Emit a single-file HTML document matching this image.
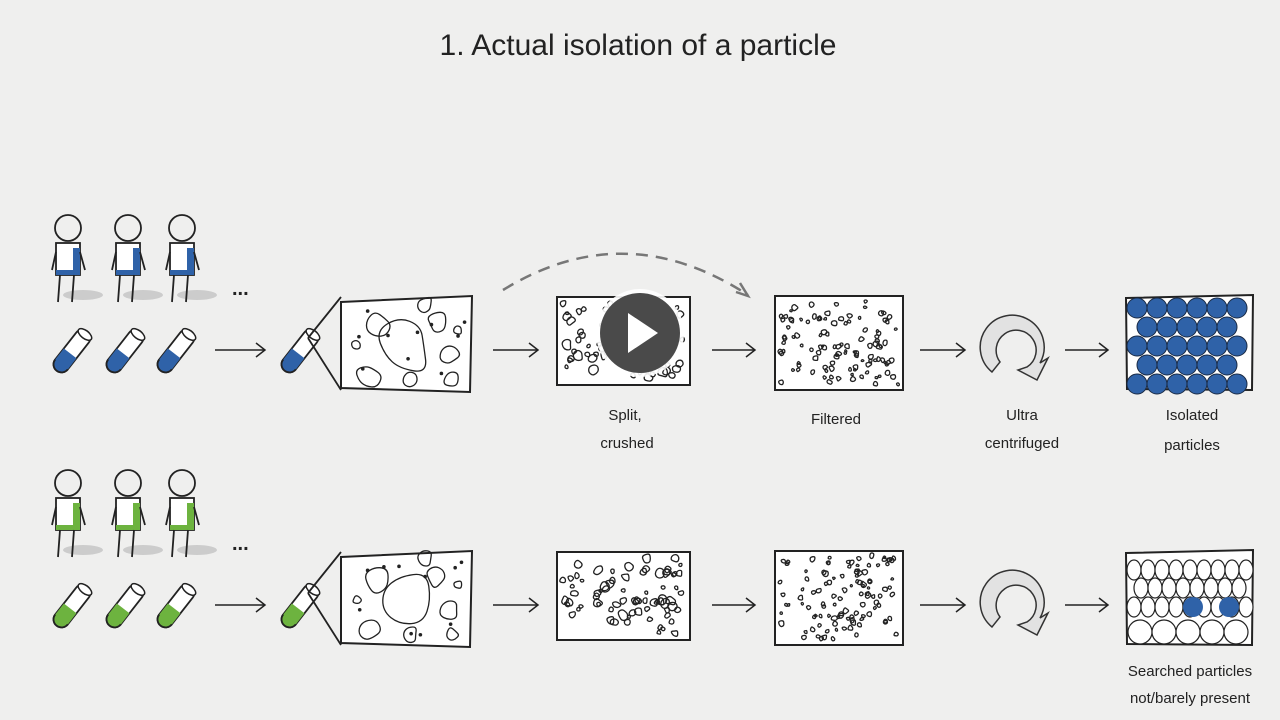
<!DOCTYPE html>
<html><head><meta charset="utf-8">
<style>
html,body{margin:0;padding:0;background:#efefee;}
svg{display:block}
text{font-family:"Liberation Sans",sans-serif;fill:#222}
</style></head><body>
<svg id="s" width="1280" height="720" viewBox="0 0 1280 720" xmlns="http://www.w3.org/2000/svg">
<rect width="1280" height="720" fill="#efefee"/>
<text x="638" y="55" font-size="30" text-anchor="middle">1. Actual isolation of a particle</text>

<g id="top"></g>
<g id="bot" transform="translate(0,255)"></g>

<path d="M503,290 Q625,215 748,295" fill="none" stroke="#777" stroke-width="2.5" stroke-dasharray="12,8"/>
<path d="M740,283 L748,296 L736,292" fill="none" stroke="#777" stroke-width="2.5"/>

<g font-size="15" text-anchor="middle">
<text x="625" y="420">Split,</text><text x="627" y="448">crushed</text>
<text x="836" y="424">Filtered</text>
<text x="1022" y="420">Ultra</text><text x="1022" y="448">centrifuged</text>
<text x="1192" y="420">Isolated</text><text x="1192" y="450">particles</text>
<text x="1190" y="676">Searched particles</text><text x="1190" y="703">not/barely present</text>
</g>

<circle cx="640" cy="333" r="44" fill="#fff" opacity="0.9"/>
<circle cx="640" cy="333" r="40" fill="#4a4a4a"/>
<path d="M628,313 L658,333 L628,353 Z" fill="#fff"/>
</svg>
<script>
var NS="http://www.w3.org/2000/svg";
function el(p,t,a){var e=document.createElementNS(NS,t);for(var k in a)e.setAttribute(k,a[k]);p.appendChild(e);return e;}
var seed=7;function r(){seed=(seed*16807)%2147483647;return seed/2147483647;}
function blob(g,cx,cy,rad,sw){var n=7,pts=[];for(var i=0;i<n;i++){var a=i/n*6.283,rr=rad*(0.55+0.55*r());pts.push([cx+Math.cos(a)*rr,cy+Math.sin(a)*rr]);}
 var d="";for(var i=0;i<n;i++){var p=pts[i],q=pts[(i+1)%n],m=[(p[0]+q[0])/2,(p[1]+q[1])/2];if(i==0){var l=pts[n-1];d="M"+((l[0]+p[0])/2).toFixed(1)+","+((l[1]+p[1])/2).toFixed(1);}d+="Q"+p[0].toFixed(1)+","+p[1].toFixed(1)+" "+m[0].toFixed(1)+","+m[1].toFixed(1);}
 el(g,"path",{d:d+"Z",fill:"none",stroke:"#222","stroke-width":sw||1.3});}
function build(g,color,bottom){
 var s={stroke:"#222","stroke-width":1.8,fill:"none"};
 var px=[68,128,182];
 px.forEach(function(x,i){
  el(g,"ellipse",{cx:x+15,cy:295,rx:20,ry:5,fill:"#ccc"});
  el(g,"circle",Object.assign({cx:x,cy:228,r:13,fill:"#fff"},s));
  el(g,"rect",{x:x-12,y:243,width:24,height:32,fill:"#fff",stroke:"#222","stroke-width":1.8});
  el(g,"rect",{x:x+5,y:248,width:7,height:27,fill:color});
  el(g,"rect",{x:x-12,y:270,width:24,height:5,fill:color});
  el(g,"path",Object.assign({d:"M"+(x-8)+",275 L"+(x-10)+",302 M"+(x+6)+",275 L"+(x+4)+",302 M"+(x-12)+",252 L"+(x-16)+",270 M"+(x+12)+",252 L"+(x+17)+",270"},s));
 });
 var dots=el(g,"text",{x:232,y:295,"font-size":20,"font-weight":"bold"});dots.textContent="...";
 [72,125,176,300].forEach(function(x){
  var t=el(g,"g",{transform:"translate("+x+",351) rotate(-52)"});
  el(t,"rect",{x:-25,y:-8,width:50,height:16,rx:8,fill:"#fff",stroke:"#222","stroke-width":1.8});
  el(t,"path",{d:"M-17,-8 L-3,-8 L-3,8 L-17,8 A8,8 0 0 1 -17,-8Z",fill:color});
  el(t,"path",{d:"M-17,-8 A8,8 0 0 0 -17,8",fill:"none",stroke:"#222","stroke-width":1.8});
  el(t,"ellipse",{cx:21,cy:0,rx:4,ry:8,fill:"#fff",stroke:"#222","stroke-width":1.5});
 });
 el(g,"path",Object.assign({d:"M308,338 L341,297 M308,338 L341,390"},s));
 [[215,265],[493,538],[712,755],[920,965],[1065,1108]].forEach(function(a){
  el(g,"path",Object.assign({d:"M"+a[0]+",350 L"+a[1]+",350 M"+(a[1]-9)+",343 L"+a[1]+",350 L"+(a[1]-9)+",357"},s,{"stroke-width":1.5}));
 });
 el(g,"path",{d:"M341,302 L472,296 L470,392 L341,388 Z",fill:"#fff",stroke:"#222","stroke-width":2});
 var b1=el(g,"g",{});
 blob(b1,405,345,34);blob(b1,378,325,14);blob(b1,437,322,12);blob(b1,450,355,11);blob(b1,368,376,14);blob(b1,452,380,9);blob(b1,425,305,10);blob(b1,357,345,6);blob(b1,410,380,10);blob(b1,458,330,5);
 for(var i=0;i<10;i++)el(b1,"circle",{cx:350+r()*115,cy:305+r()*78,r:1.8,fill:"#222"});
 el(g,"rect",{x:557,y:297,width:133,height:88,fill:"#fff",stroke:"#222","stroke-width":2});
 for(var i=0;i<75;i++)blob(g,563+r()*121,303+r()*76,2+r()*4);
 el(g,"rect",{x:775,y:296,width:128,height:94,fill:"#fff",stroke:"#222","stroke-width":2});
 for(var i=0;i<110;i++)blob(g,780+r()*118,301+r()*84,1.5+r()*2);
 el(g,"path",{d:"M992,372 A32,32 0 1 1 1040,363 L1048,358 L1037,380 L1018,370 L1027,367 A20,20 0 1 0 1000,362 Z",fill:"#e2e2e2",stroke:"#333","stroke-width":1.5});
 el(g,"path",{d:"M1126,298 L1253,295 L1252,390 L1127,389 Z",fill:"#fff",stroke:"#222","stroke-width":2});
 if(!bottom){
  for(var row=0;row<5;row++){var n=row%2?5:6,x0=row%2?1147:1137;for(var c=0;c<n;c++)el(g,"circle",{cx:x0+c*20,cy:308+row*19,r:10,fill:"#2f62a8",stroke:"#1a2a44","stroke-width":1});}
 } else {
  for(var c=0;c<9;c++)el(g,"ellipse",{cx:1134+c*14,cy:315,rx:7,ry:10,fill:"#fff",stroke:"#222","stroke-width":1.2});
  for(var c=0;c<8;c++)el(g,"ellipse",{cx:1141+c*14,cy:333,rx:7,ry:10,fill:"#fff",stroke:"#222","stroke-width":1.2});
  for(var c=0;c<9;c++)el(g,"ellipse",{cx:1134+c*14,cy:352,rx:7,ry:10,fill:"#fff",stroke:"#222","stroke-width":1.2});
  el(g,"circle",{cx:1193,cy:352,r:10,fill:"#2f62a8"});el(g,"circle",{cx:1229,cy:352,r:10,fill:"#2f62a8"});
  for(var c=0;c<5;c++)el(g,"circle",{cx:1140+c*24,cy:377,r:12,fill:"#fff",stroke:"#222","stroke-width":1.2});
 }
}
build(document.getElementById("top"),"#2f62a8",false);
build(document.getElementById("bot"),"#6db33f",true);
</script>
</body></html>
